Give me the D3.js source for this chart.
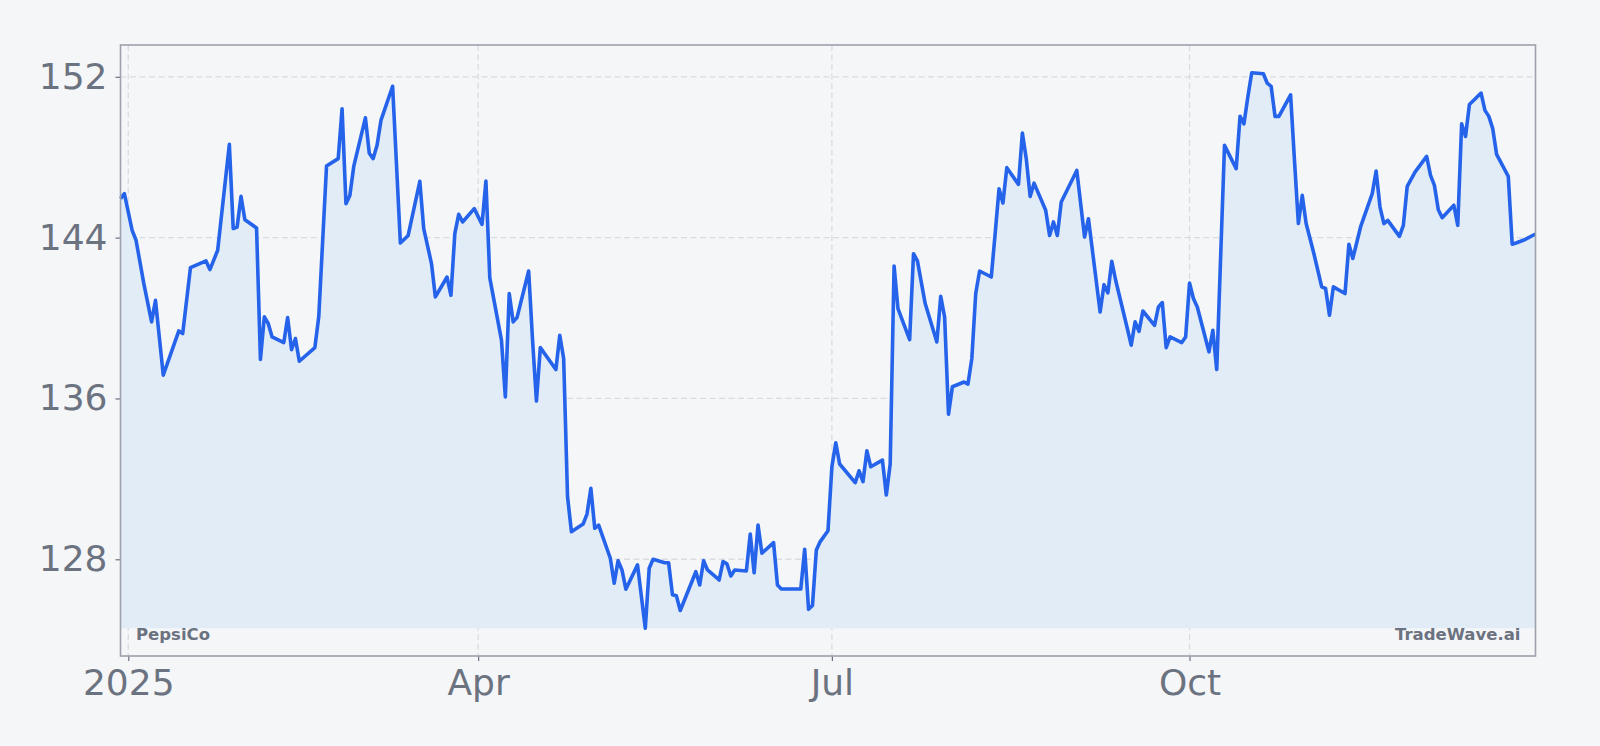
<!doctype html>
<html lang="en">
  <head>
    <meta charset="utf-8">
    <title>PepsiCo 2025</title>
    <style>
      html, body { margin: 0; padding: 0; background: #f5f7fa; }
      svg { display: block; }
    </style>
  </head>
  <body>
    <script src="https://cdnjs.cloudflare.com/ajax/libs/d3/7.8.5/d3.min.js"></script>
    <script>
      // closing prices
      var dates = [
        "2024-12-30","2024-12-31","2025-01-02","2025-01-03","2025-01-05","2025-01-07","2025-01-08","2025-01-10",
        "2025-01-14","2025-01-15","2025-01-17","2025-01-21","2025-01-22","2025-01-24","2025-01-27","2025-01-28",
        "2025-01-29","2025-01-30","2025-01-31","2025-02-03","2025-02-04","2025-02-05","2025-02-06","2025-02-07",
        "2025-02-10","2025-02-11","2025-02-12","2025-02-13","2025-02-14","2025-02-18","2025-02-19","2025-02-21",
        "2025-02-24","2025-02-25","2025-02-26","2025-02-27","2025-02-28","2025-03-03","2025-03-04","2025-03-05",
        "2025-03-06","2025-03-07","2025-03-10","2025-03-12","2025-03-14","2025-03-17","2025-03-18","2025-03-20",
        "2025-03-21","2025-03-24","2025-03-25","2025-03-26","2025-03-27","2025-03-28","2025-03-31","2025-04-02",
        "2025-04-03","2025-04-04","2025-04-07","2025-04-08","2025-04-09","2025-04-10","2025-04-11","2025-04-14",
        "2025-04-15","2025-04-16","2025-04-17","2025-04-21","2025-04-22","2025-04-23","2025-04-24","2025-04-25",
        "2025-04-28","2025-04-29","2025-04-30","2025-05-01","2025-05-02","2025-05-05","2025-05-06","2025-05-07",
        "2025-05-08","2025-05-09","2025-05-12","2025-05-14","2025-05-15","2025-05-16","2025-05-19","2025-05-20",
        "2025-05-21","2025-05-22","2025-05-23","2025-05-27","2025-05-28","2025-05-29","2025-05-30","2025-06-02",
        "2025-06-03","2025-06-04","2025-06-05","2025-06-06","2025-06-09","2025-06-10","2025-06-11","2025-06-12",
        "2025-06-13","2025-06-16","2025-06-17","2025-06-18","2025-06-23","2025-06-24","2025-06-25","2025-06-26",
        "2025-06-27","2025-06-28","2025-06-30","2025-07-01","2025-07-02","2025-07-03","2025-07-07","2025-07-08",
        "2025-07-09","2025-07-10","2025-07-11","2025-07-14","2025-07-15","2025-07-16","2025-07-17","2025-07-18",
        "2025-07-21","2025-07-22","2025-07-23","2025-07-25","2025-07-28","2025-07-29","2025-07-30","2025-07-31",
        "2025-08-01","2025-08-04","2025-08-05","2025-08-06","2025-08-07","2025-08-08","2025-08-11","2025-08-12",
        "2025-08-13","2025-08-14","2025-08-15","2025-08-18","2025-08-19","2025-08-20","2025-08-21","2025-08-22",
        "2025-08-25","2025-08-26","2025-08-27","2025-08-28","2025-08-29","2025-09-02","2025-09-04","2025-09-05",
        "2025-09-08","2025-09-09","2025-09-10","2025-09-11","2025-09-12","2025-09-15","2025-09-16","2025-09-17",
        "2025-09-18","2025-09-19","2025-09-22","2025-09-23","2025-09-24","2025-09-25","2025-09-26","2025-09-29",
        "2025-09-30","2025-10-01","2025-10-02","2025-10-03","2025-10-06","2025-10-07","2025-10-08","2025-10-10",
        "2025-10-13","2025-10-14","2025-10-15","2025-10-16","2025-10-17","2025-10-20","2025-10-21","2025-10-22",
        "2025-10-23","2025-10-24","2025-10-27","2025-10-28","2025-10-29","2025-10-30","2025-10-31","2025-11-02",
        "2025-11-04","2025-11-05","2025-11-06","2025-11-07","2025-11-10","2025-11-11","2025-11-12","2025-11-14",
        "2025-11-17","2025-11-18","2025-11-19","2025-11-20","2025-11-21","2025-11-24","2025-11-25","2025-11-26",
        "2025-11-28","2025-12-01","2025-12-02","2025-12-03","2025-12-04","2025-12-05","2025-12-08","2025-12-09",
        "2025-12-10","2025-12-11","2025-12-12","2025-12-15","2025-12-16","2025-12-17","2025-12-18","2025-12-19",
        "2025-12-22","2025-12-23","2025-12-24","2025-12-26","2025-12-29"
      ];

      var prices = [
        145.94,146.19,144.36,143.87,141.71,139.81,140.88,137.16,
        139.36,139.23,142.51,142.84,142.41,143.37,148.64,144.45,
        144.53,146.05,144.89,144.48,137.94,140.06,139.73,139.06,
        138.78,140.02,138.43,138.98,137.85,138.53,140.06,147.56,
        147.93,150.41,145.69,146.10,147.54,149.96,148.20,147.93,
        148.59,149.83,151.53,143.73,144.11,146.80,144.45,142.71,
        141.05,142.04,141.13,144.20,145.16,144.78,145.44,144.66,
        146.81,142.00,138.90,136.08,141.22,139.81,140.02,142.34,
        138.90,135.87,138.53,137.44,139.14,137.99,131.11,129.37,
        129.75,130.25,131.53,129.54,129.70,128.05,126.81,127.93,
        127.47,126.51,127.72,124.57,127.55,128.00,127.83,127.83,
        126.23,126.18,125.45,127.38,126.72,127.93,127.47,126.97,
        127.88,127.77,127.17,127.47,127.42,129.26,127.33,129.70,
        128.30,128.83,126.72,126.52,126.52,128.50,125.51,125.70,
        128.46,128.88,129.42,132.60,133.79,132.74,131.81,132.40,
        131.86,133.40,132.60,132.93,131.20,132.74,142.59,140.47,
        138.93,143.20,142.84,140.72,138.81,141.08,140.05,135.22,
        136.58,136.82,136.71,137.99,141.22,142.34,142.04,144.20,
        146.43,145.72,147.48,146.65,149.20,147.93,146.05,146.71,
        145.36,144.11,144.78,144.11,145.77,147.34,144.03,144.94,
        140.30,141.66,141.25,142.82,141.88,139.48,138.65,139.81,
        139.34,140.35,139.64,140.55,140.77,138.53,139.06,138.78,
        139.06,141.74,140.97,140.55,138.32,139.39,137.44,148.59,
        147.43,150.04,149.66,150.99,152.20,152.15,151.68,151.52,
        150.03,150.03,151.10,147.84,144.70,146.10,144.70,143.20,
        141.55,141.47,140.14,141.55,141.22,143.67,142.96,144.53,
        146.19,147.31,145.52,144.70,144.86,144.06,144.61,146.55,
        147.26,148.04,147.10,146.60,145.39,144.99,145.61,144.61,
        149.66,149.03,150.62,151.19,150.33,150.03,149.42,148.14,
        147.05,143.67,143.73,143.88,144.18
      ];

      var yTicks = [128, 136, 144, 152];
      var xTicks = ["2025-01-01", "2025-04-01", "2025-07-01", "2025-10-01"];
      var xTickLabels = ["2025", "Apr", "Jul", "Oct"];
      var tickerLabel = "PepsiCo";
      var brandLabel = "TradeWave.ai";

      var parse = d3.timeParse("%Y-%m-%d");
      var data = dates.map(function(d, i){ return { date: parse(d), value: prices[i] }; });

      var margin = {top: 45, right: 64.5, bottom: 90, left: 120.5},
          width = 1600 - margin.left - margin.right,
          height = 746 - margin.top - margin.bottom;

      var svg = d3.select("body")
        .append("svg")
        .attr("width", 1600)
        .attr("height", 746)
        .style("font-family", "'DejaVu Sans', sans-serif");

      svg.append("rect")
        .attr("width", 1600)
        .attr("height", 746)
        .attr("fill", "#f5f6f8");

      var chart = svg.append("g")
        .attr("transform", "translate(" + margin.left + "," + margin.top + ")");

      var minV = d3.min(prices), maxV = d3.max(prices), pad = (maxV - minV) * 0.05;

      var x = d3.scaleTime()
        .range([0, width])
        .domain(d3.extent(data, function(d){ return d.date; }));

      var y = d3.scaleLinear()
        .range([height, 0])
        .domain([minV - pad, maxV + pad]);

      // grid
      chart.append("g")
        .selectAll("line")
        .data(yTicks)
        .enter()
        .append("line")
        .attr("x1", 0).attr("x2", width)
        .attr("y1", function(d){ return y(d); })
        .attr("y2", function(d){ return y(d); })
        .attr("stroke", "#d9dce1")
        .attr("stroke-width", 1.3)
        .attr("stroke-dasharray", "6,3.5");

      chart.append("g")
        .selectAll("line")
        .data(xTicks)
        .enter()
        .append("line")
        .attr("y1", 0).attr("y2", height)
        .attr("x1", function(d){ return x(parse(d)); })
        .attr("x2", function(d){ return x(parse(d)); })
        .attr("stroke", "#d9dce1")
        .attr("stroke-width", 1.3)
        .attr("stroke-dasharray", "6,3.5");

      // area down to the lowest close, then the line
      chart.append("path")
        .datum(data)
        .attr("fill", "#e2ecf7")
        .attr("d", d3.area()
          .x(function(d){ return x(d.date); })
          .y0(y(minV))
          .y1(function(d){ return y(d.value); }));

      chart.append("path")
        .datum(data)
        .attr("fill", "none")
        .attr("stroke", "#2563eb")
        .attr("stroke-width", 3.6)
        .attr("stroke-linejoin", "round")
        .attr("d", d3.line()
          .x(function(d){ return x(d.date); })
          .y(function(d){ return y(d.value); }));

      // axes
      var yAxis = chart.append("g")
        .call(d3.axisLeft(y).tickValues(yTicks).tickSize(5).tickPadding(8).tickFormat(d3.format("d")));

      var xAxis = chart.append("g")
        .attr("transform", "translate(0," + height + ")")
        .call(d3.axisBottom(x)
          .tickValues(xTicks.map(parse))
          .tickSize(5)
          .tickPadding(8)
          .tickFormat(function(d, i){ return xTickLabels[i]; }));

      [xAxis, yAxis].forEach(function(a){
        a.select(".domain").remove();
        a.selectAll(".tick line").attr("stroke", "#6b7280").attr("stroke-width", 1.2);
        a.selectAll(".tick text")
          .attr("fill", "#6b7280")
          .style("font-size", "36px")
          .style("font-family", "'DejaVu Sans', sans-serif");
      });

      // frame
      chart.append("rect")
        .attr("width", width)
        .attr("height", height)
        .attr("fill", "none")
        .attr("stroke", "#9ca1ab")
        .attr("stroke-width", 1.6);

      chart.append("text")
        .attr("x", 15.5)
        .attr("y", height - 16)
        .attr("fill", "#6b7280")
        .style("font-size", "16.5px")
        .style("font-weight", "bold")
        .text(tickerLabel);

      chart.append("text")
        .attr("x", width - 15)
        .attr("y", height - 16)
        .attr("text-anchor", "end")
        .attr("fill", "#6b7280")
        .style("font-size", "16.5px")
        .style("font-weight", "bold")
        .text(brandLabel);
    </script>
  </body>
</html>
